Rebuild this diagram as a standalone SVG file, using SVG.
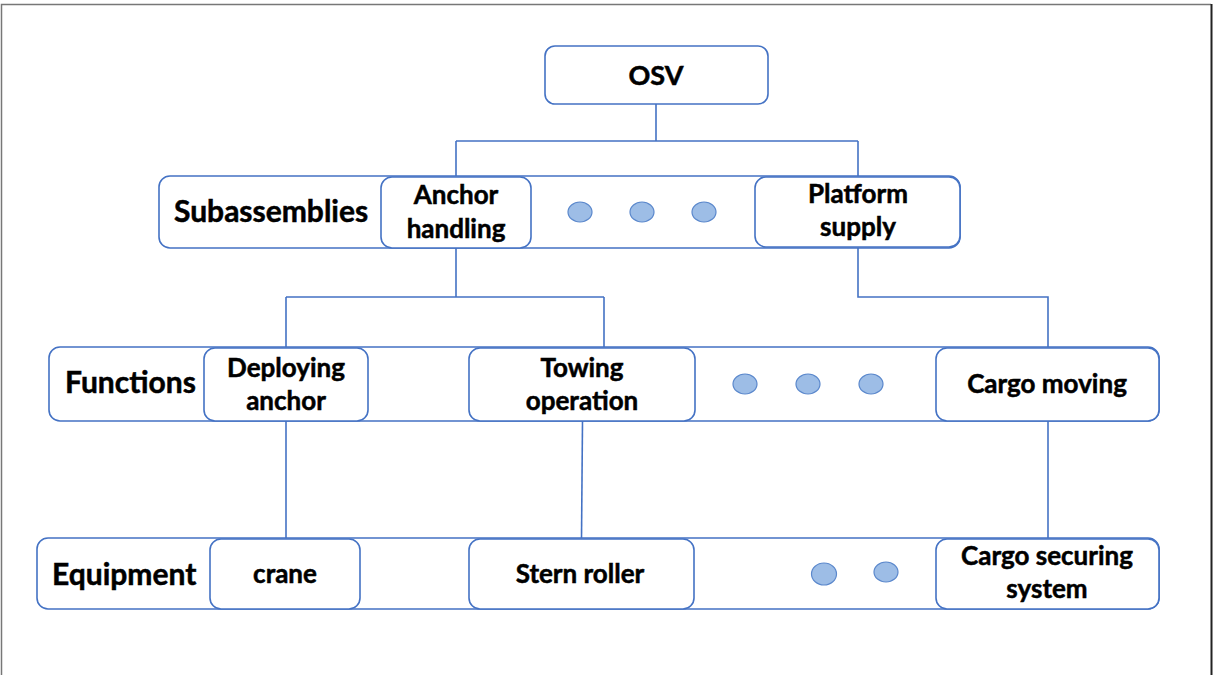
<svg xmlns="http://www.w3.org/2000/svg" width="1213" height="675" viewBox="0 0 1213 675">
  <style>
    .box { fill: #ffffff; stroke: #4472c4; stroke-width: 1.6; }
    .wire { fill: none; stroke: #4472c4; stroke-width: 1.6; }
    .dot { fill: #9dbde6; stroke: #5b88cc; stroke-width: 1.2; }
    .t { font-family: Lato, "Open Sans", sans-serif; font-weight: 700; fill: #000000; stroke: #000000; stroke-width: 0.5; text-anchor: middle; }
    .node { font-size: 26px; }
    .row { font-size: 30px; text-anchor: start; }
  </style>

  <!-- page frame -->
  <rect x="0" y="0" width="1213" height="675" fill="#ffffff"/>
  <path d="M1.5,675 V4.5 H1211" fill="none" stroke="#777777" stroke-width="1.5"/>
  <line x1="1211.5" y1="4" x2="1211.5" y2="675" stroke="#222222" stroke-width="2"/>

  <!-- connectors -->
  <g id="connectors">
    <path class="wire" d="M656,104 V141 M456,141 H858 M456,141 V177 M858,141 V177"/>
    <path class="wire" d="M456,248 V297 M286,297 H604 M286,297 V348 M604,297 V348"/>
    <path class="wire" d="M858,247 V297 H1048 V348"/>
    <path class="wire" d="M286,421 V539"/>
    <path class="wire" d="M582.5,421 L581.5,539"/>
    <path class="wire" d="M1048,421 V539"/>
  </g>

  <!-- root -->
  <g id="osv">
    <rect class="box" x="545" y="46" width="223" height="58" rx="10"/>
    <text class="t" x="656" y="85" font-size="27">OSV</text>
  </g>

  <!-- subassemblies row -->
  <g id="row-subassemblies">
    <rect class="box" x="159" y="176" width="801" height="72" rx="11"/>
    <text class="t row" x="174" y="222">Subassemblies</text>
  </g>
  <g id="anchor-handling">
    <rect class="box" x="381" y="177" width="150" height="71" rx="11"/>
    <text class="t node" x="456" y="204">Anchor</text>
    <text class="t node" x="456" y="238">handling</text>
  </g>
  <g id="sub-dots">
    <ellipse class="dot" cx="580" cy="212" rx="12" ry="10"/>
    <ellipse class="dot" cx="642" cy="212" rx="12" ry="10"/>
    <ellipse class="dot" cx="704" cy="212" rx="12" ry="10"/>
  </g>
  <g id="platform-supply">
    <rect class="box" x="755" y="177" width="205" height="70" rx="11"/>
    <text class="t node" x="858" y="203">Platform</text>
    <text class="t node" x="858" y="236">supply</text>
  </g>

  <!-- functions row -->
  <g id="row-functions">
    <rect class="box" x="49" y="347" width="1110" height="74" rx="11"/>
    <text class="t row" x="65" y="393">Functions</text>
  </g>
  <g id="deploying-anchor">
    <rect class="box" x="204" y="348" width="164" height="73" rx="11"/>
    <text class="t node" x="286" y="377">Deploying</text>
    <text class="t node" x="286" y="410">anchor</text>
  </g>
  <g id="towing-operation">
    <rect class="box" x="469" y="348" width="226" height="73" rx="11"/>
    <text class="t node" x="582" y="377">Towing</text>
    <text class="t node" x="582" y="410">operation</text>
  </g>
  <g id="func-dots">
    <ellipse class="dot" cx="745" cy="384" rx="12" ry="10"/>
    <ellipse class="dot" cx="808" cy="384" rx="12" ry="10"/>
    <ellipse class="dot" cx="871" cy="384" rx="12" ry="10"/>
  </g>
  <g id="cargo-moving">
    <rect class="box" x="936" y="348" width="223" height="73" rx="11"/>
    <text class="t node" x="1047" y="393">Cargo moving</text>
  </g>

  <!-- equipment row -->
  <g id="row-equipment">
    <rect class="box" x="37" y="538" width="1122" height="71" rx="11"/>
    <text class="t row" x="52" y="585">Equipment</text>
  </g>
  <g id="crane">
    <rect class="box" x="210" y="539" width="150" height="70" rx="11"/>
    <text class="t node" x="285" y="583">crane</text>
  </g>
  <g id="stern-roller">
    <rect class="box" x="469" y="539" width="225" height="70" rx="11"/>
    <text class="t node" x="580" y="583">Stern roller</text>
  </g>
  <g id="equip-dots">
    <ellipse class="dot" cx="824" cy="574" rx="12.5" ry="11"/>
    <ellipse class="dot" cx="886" cy="572" rx="12" ry="10"/>
  </g>
  <g id="cargo-securing-system">
    <rect class="box" x="936" y="539" width="223" height="70" rx="11"/>
    <text class="t node" x="1047" y="565">Cargo securing</text>
    <text class="t node" x="1047" y="598">system</text>
  </g>
</svg>
